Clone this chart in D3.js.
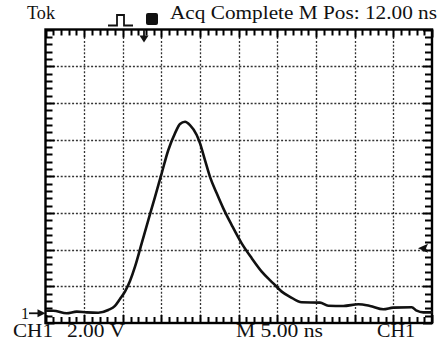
<!DOCTYPE html>
<html>
<head>
<meta charset="utf-8">
<script src="https://cdn.jsdelivr.net/npm/d3@7"></script>
<style>
html,body{margin:0;padding:0;background:#fff;}
svg{display:block;}
text{font-family:"Liberation Serif","DejaVu Serif",serif;fill:#111;}
</style>
</head>
<body>
<svg id="chart" width="441" height="354"></svg>
<script>
// ---- data (time in ns, voltage in V relative to CH1 ground marker) ----
const timeNs = [0.16,1.0,2.74,4.04,5.33,6.83,8.12,8.99,9.64,10.28,10.93,11.58,12.44,13.30,14.17,15.03,15.89,16.75,17.40,18.05,18.69,19.56,19.99,20.63,21.28,22.15,23.00,24.09,25.38,26.68,27.97,29.47,30.56,31.63,33.14,35.51,36.58,38.53,40.47,41.98,43.70,44.99,47.37,48.02,48.87,49.96];
const voltV  = [0.14,0.14,0.00,0.09,0.05,0.03,0.18,0.40,0.78,1.18,1.76,2.54,3.81,5.08,6.35,7.63,8.90,9.81,10.32,10.44,10.26,9.72,9.26,8.35,7.44,6.54,5.72,4.81,3.81,3.00,2.27,1.63,1.18,0.90,0.60,0.58,0.41,0.40,0.49,0.40,0.22,0.31,0.33,0.14,0.05,0.05];
const timeDomain = [0, 50];          // 10 div x 5.00 ns
const voltDomain = [-0.53, 15.47];   // 8 div x 2.00 V
const timePerDiv = 5, voltPerDiv = 2, minorPerDiv = 5;
const triggerLevelV = 3.54;
const headerLeft = "Tok";
const headerRight = "Acq Complete M Pos: 12.00 ns";
const footerLabels = ["CH1", "2.00 V", "M 5.00 ns", "CH1"];

// ---- layout ----
const L = 45.5, R = 432, T = 29.5, B = 323;
const svg = d3.select("#chart");
const x = d3.scaleLinear().domain(timeDomain).range([L, R]);
const y = d3.scaleLinear().domain(voltDomain).range([B, T]);

const majorX = d3.range(0, 11).map(i => timeDomain[0] + i * timePerDiv);
const majorY = d3.range(0, 9).map(i => voltDomain[0] + i * voltPerDiv);
const minorX = d3.range(0, 51).map(i => timeDomain[0] + i * timePerDiv / minorPerDiv);
const minorY = d3.range(0, 41).map(i => voltDomain[0] + i * voltPerDiv / minorPerDiv);

// grid (dotted)
const grid = svg.append("g").attr("stroke", "#333").attr("stroke-width", 1.3).attr("stroke-dasharray", "2,1.8");
grid.selectAll("line.gx").data(majorX.slice(1, -1)).join("line").attr("class","gx")
  .attr("x1", d => Math.round(x(d)) + 0.5).attr("x2", d => Math.round(x(d)) + 0.5)
  .attr("y1", T).attr("y2", B);
grid.selectAll("line.gy").data(majorY.slice(1, -1)).join("line").attr("class","gy")
  .attr("y1", d => Math.round(y(d)) + 0.5).attr("y2", d => Math.round(y(d)) + 0.5)
  .attr("x1", L).attr("x2", R);

// edge ticks (pointing inward), positioned by the scales
const isMajorX = d => majorX.some(m => Math.abs(m - d) < 1e-6);
const isMajorY = d => majorY.some(m => Math.abs(m - d) < 1e-6);
const tickPath = [];
minorX.forEach(d => {
  const px = Math.round(x(d)) + 0.5, len = isMajorX(d) ? 8 : 6;
  tickPath.push(`M${px},${T}V${T + len}`, `M${px},${B}V${B - len}`);
});
minorY.forEach(d => {
  const py = Math.round(y(d)) + 0.5, len = isMajorY(d) ? 9 : 7;
  tickPath.push(`M${L},${py}H${L + len}`, `M${R},${py}H${R - len}`);
});
svg.append("path").attr("d", tickPath.join(""))
  .attr("fill", "none").attr("stroke", "#000").attr("stroke-width", 2);

// frame
svg.append("rect").attr("x", L).attr("y", T).attr("width", R - L).attr("height", B - T)
  .attr("fill", "none").attr("stroke", "#000").attr("stroke-width", 2.4);

// waveform
const line = d3.line().x((d, i) => x(timeNs[i])).y(d => y(d)).curve(d3.curveMonotoneX);
svg.append("path").datum(voltV).attr("d", line)
  .attr("fill", "none").attr("stroke", "#111").attr("stroke-width", 2.6)
  .attr("stroke-linejoin", "round").attr("stroke-linecap", "round");

// ground marker "1 ->"
const gy = y(0);
svg.append("text").attr("x", 21).attr("y", gy + 5.5).attr("font-size", 16).text("1");
svg.append("line").attr("x1", 29).attr("x2", L - 4).attr("y1", gy).attr("y2", gy)
  .attr("stroke", "#111").attr("stroke-width", 1.8);
svg.append("path").attr("d", `M${L},${gy} L${L-8},${gy-4} L${L-8},${gy+4} Z`).attr("fill", "#111");

// trigger level marker (right, pointing left)
const ty = y(triggerLevelV);
svg.append("path").attr("d", `M${R-14},${ty} L${R-4},${ty-4.5} L${R-6},${ty} L${R-4},${ty+4.5} Z`).attr("fill", "#111");

// trigger position arrow (top)
const tx = 144;
svg.append("line").attr("x1", tx).attr("x2", tx).attr("y1", T).attr("y2", T + 8)
  .attr("stroke", "#111").attr("stroke-width", 1.8);
svg.append("path").attr("d", `M${tx-4.5},${T+6} L${tx+4.5},${T+6} L${tx},${T+13} Z`).attr("fill", "#111");

// trigger pulse symbol
svg.append("path").attr("d", "M108,25.5 L117,25.5 L117,15 L124,15 L124,25.5 L133,25.5")
  .attr("fill", "none").attr("stroke", "#111").attr("stroke-width", 1.8);
// run/stop square
svg.append("rect").attr("x", 146).attr("y", 13).attr("width", 12).attr("height", 12).attr("rx", 2)
  .attr("fill", "#111");

// header texts
svg.append("text").attr("x", 27).attr("y", 18.5).attr("font-size", 18)
  .attr("textLength", 28).attr("lengthAdjust", "spacingAndGlyphs").text(headerLeft);
svg.append("text").attr("x", 170).attr("y", 18.5).attr("font-size", 18)
  .attr("textLength", 267).attr("lengthAdjust", "spacingAndGlyphs").text(headerRight);

// footer texts
const footX = [13, 67, 236, 377], footW = [40, 58, 87, 38];
svg.selectAll("text.foot").data(footerLabels).join("text").attr("class", "foot")
  .attr("x", (d, i) => footX[i]).attr("y", 337).attr("font-size", 18)
  .attr("textLength", (d, i) => footW[i]).attr("lengthAdjust", "spacingAndGlyphs")
  .text(d => d);
</script>
</body>
</html>
